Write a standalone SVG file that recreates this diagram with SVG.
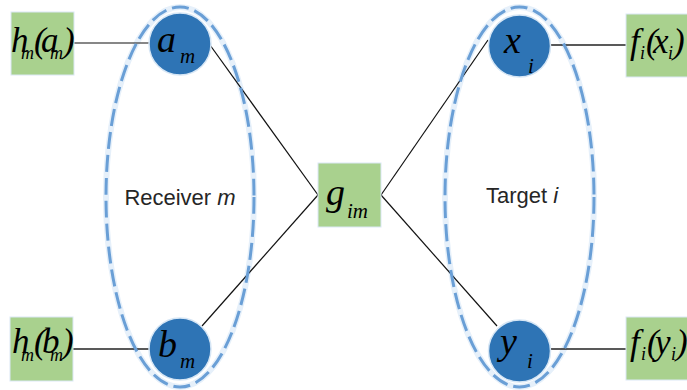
<svg xmlns="http://www.w3.org/2000/svg" width="687" height="390" viewBox="0 0 687 390">
<defs>
<style>
.box{fill:#a9d18e;stroke:#dbe8f5;stroke-width:1}
.node{fill:#2e74b5;stroke:#d6e6f5;stroke-width:1.5}
.grp{fill:none;stroke:#6a9fd6;stroke-width:3;stroke-dasharray:17 6}
.halo{fill:none;stroke:#e6f0fa;stroke-width:6}
.edge{stroke:#111;stroke-width:1.2;fill:none}
.hedge{stroke:#222;stroke-width:1.6;fill:none}
.m{font-family:"Liberation Serif","Times New Roman",serif;font-style:italic;fill:#000}
.big{font-size:38px}
.bx{font-size:35px}
.sub{font-size:21px}
.sb{font-size:18px}
.lbl{font-family:"Liberation Sans",Arial,sans-serif;font-size:22px;fill:#262626}
</style>
</defs>
<rect width="687" height="390" fill="#fff"/>
<g id="groups">
<ellipse class="halo" cx="180" cy="197" rx="74" ry="190"/>
<ellipse class="halo" cx="519.5" cy="197" rx="74.5" ry="190"/>
</g>
<g id="connectors">
<line class="edge" x1="74" y1="43" x2="150" y2="43"/>
<line class="hedge" x1="73" y1="349" x2="150" y2="349"/>
<line class="hedge" x1="550" y1="45" x2="626" y2="45"/>
<line class="hedge" x1="550" y1="349" x2="626" y2="349"/>
<line class="edge" x1="210" y1="45" x2="318" y2="195"/>
<line class="edge" x1="202" y1="326" x2="318" y2="195"/>
<line class="edge" x1="381" y1="195" x2="488" y2="40"/>
<line class="edge" x1="381" y1="195" x2="497" y2="326"/>
</g>
<g id="node-am">
<circle class="node" cx="180" cy="44" r="31"/>
<text class="m big"><tspan x="157" y="52">a</tspan><tspan class="sub" x="180" y="63">m</tspan></text>
</g>
<g id="node-bm">
<circle class="node" cx="180" cy="349" r="31"/>
<text class="m big"><tspan x="158" y="357">b</tspan><tspan class="sub" x="180" y="368">m</tspan></text>
</g>
<g id="node-xi">
<circle class="node" cx="519.5" cy="46" r="31"/>
<text class="m big"><tspan x="504" y="53">x</tspan><tspan class="sub" x="528" y="73">i</tspan></text>
</g>
<g id="node-yi">
<circle class="node" cx="519.5" cy="351" r="31"/>
<text class="m big"><tspan x="500" y="354">y</tspan><tspan class="sub" x="527" y="368">i</tspan></text>
</g>
<g id="node-gim">
<rect class="box" x="318" y="163" width="63" height="64"/>
<text class="m big"><tspan x="326" y="205">g</tspan><tspan class="sub" x="347" y="218">im</tspan></text>
</g>
<g id="node-ham">
<rect class="box" x="11" y="12" width="63" height="63"/>
<text class="m bx"><tspan x="11" y="52">h</tspan><tspan class="sb" x="21" y="59">m</tspan><tspan x="34" y="52">(</tspan><tspan x="41" y="52">a</tspan><tspan class="sb" x="50" y="59">m</tspan><tspan x="63" y="52">)</tspan></text>
</g>
<g id="node-hbm">
<rect class="box" x="10" y="317" width="63" height="64"/>
<text class="m bx"><tspan x="12" y="353">h</tspan><tspan class="sb" x="21" y="361">m</tspan><tspan x="34" y="353">(</tspan><tspan x="42" y="353">b</tspan><tspan class="sb" x="50" y="361">m</tspan><tspan x="62" y="353">)</tspan></text>
</g>
<g id="node-fxi">
<rect class="box" x="626" y="14" width="63" height="63"/>
<text class="m bx"><tspan x="630" y="53">f</tspan><tspan class="sb" x="640" y="59">i</tspan><tspan x="646" y="53">(</tspan><tspan x="653" y="53">x</tspan><tspan class="sb" x="668" y="59">i</tspan><tspan x="673" y="53">)</tspan></text>
</g>
<g id="node-fyi">
<rect class="box" x="626" y="317" width="63" height="63"/>
<text class="m bx"><tspan x="630" y="354">f</tspan><tspan class="sb" x="641" y="360">i</tspan><tspan x="647" y="354">(</tspan><tspan x="655" y="354">y</tspan><tspan class="sb" x="671" y="360">i</tspan><tspan x="676" y="354">)</tspan></text>
</g>
<g id="group-outlines">
<ellipse class="grp" cx="180" cy="197" rx="74" ry="190"/>
<ellipse class="grp" cx="519.5" cy="197" rx="74.5" ry="190"/>
</g>
<g id="labels">
<text class="lbl" x="180" y="205" text-anchor="middle">Receiver <tspan font-style="italic">m</tspan></text>
<text class="lbl" x="522" y="203" text-anchor="middle">Target <tspan font-style="italic">i</tspan></text>
</g>
</svg>
